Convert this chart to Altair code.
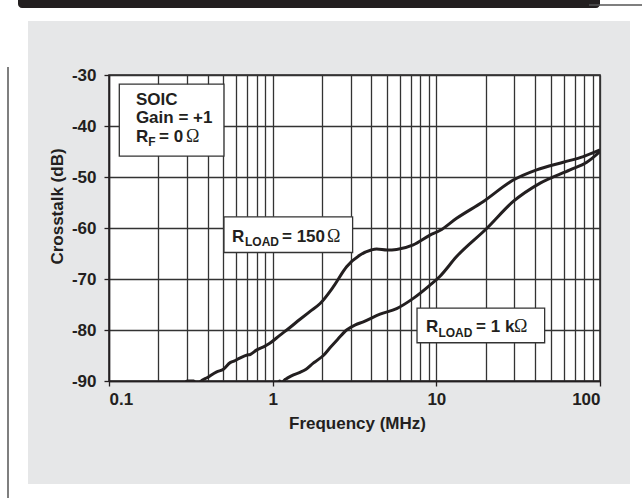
import altair as alt
import pandas as pd

# Crosstalk vs frequency, two load conditions (SOIC, gain +1, RF = 0)
freq_150 = [0.28, 0.30, 0.33, 0.345, 0.36, 0.40, 0.455, 0.50, 0.55, 0.58, 0.63, 0.70,
            0.73, 0.80, 0.88, 0.96, 1.11, 1.22, 1.47, 1.70, 1.95, 2.35, 2.83, 3.42,
            4.0, 4.32, 5.0, 5.72, 7.23, 9.15, 10.5, 13.3, 19.4, 29.5, 41.0, 59.7, 79.1, 100]
db_150 = [-91.5, -90.0, -90.0, -91.0, -90.2, -89.3, -88.2, -87.7, -86.4, -86.1, -85.5, -84.9,
          -84.8, -83.9, -83.3, -82.6, -81.0, -80.0, -77.9, -76.3, -74.8, -71.5, -67.6, -65.3,
          -64.3, -64.1, -64.3, -64.2, -63.3, -61.4, -60.5, -58.1, -54.8, -50.6, -48.6, -47.1, -46.0, -44.7]

freq_1k = [1.05, 1.10, 1.14, 1.19, 1.22, 1.34, 1.47, 1.60, 1.77, 1.86, 2.04, 2.24, 2.50,
           2.83, 3.2, 3.58, 4.53, 5.72, 7.23, 9.15, 10.5, 13.3, 20.3, 29.5, 43.1, 65.6, 83.0, 100]
db_1k = [-91.5, -90.0, -90.3, -89.7, -89.5, -88.8, -88.3, -87.7, -86.5, -86.0, -85.0, -83.5, -81.8,
         -80.0, -79.0, -78.4, -76.9, -75.8, -73.8, -71.2, -69.5, -65.6, -60.1, -54.8, -51.2, -48.6, -47.1, -45.0]

# Axis grid / tick values
x_grid = [0.1, 0.2, 0.3, 0.4, 0.5, 0.6, 0.7, 0.8, 0.9,
          1, 2, 3, 4, 5, 6, 7, 8, 9,
          10, 20, 30, 40, 50, 60, 70, 80, 90, 100]
y_ticks = [-90, -80, -70, -60, -50, -40, -30]

# Annotation boxes (frequency / dB extents)
box_f1 = [0.1156, 0.504, 7.62]
box_f2 = [0.504, 3.08, 45.9]
box_db1 = [-31.8, -57.8, -75.7]
box_db2 = [-45.9, -64.8, -82.5]

# Annotation text pieces
main_text = ["SOIC", "Gain = +1", "R", "= 0", "R", "= 150", "R", "= 1 k"]
main_f = [0.146, 0.146, 0.146, 0.202, 0.564, 1.14, 8.65, 17.5]
main_db = [-35.9, -39.4, -43.1, -43.1, -62.7, -62.7, -80.4, -80.4]
sub_text = ["F", "LOAD", "LOAD"]
sub_f = [0.174, 0.678, 10.3]
sub_db = [-43.9, -63.5, -81.3]
ohm_text = ["\u03a9", "\u03a9", "\u03a9"]
ohm_f = [0.2955, 2.15, 29.8]
ohm_db = [-43.1, -62.7, -80.4]

FONT = "Liberation Sans, Arial, Helvetica, sans-serif"
SERIF = "Liberation Serif, DejaVu Serif, serif"
INK = "#231f20"
W, H = 491, 306

curves = pd.concat([
    pd.DataFrame({"f": freq_150, "db": db_150, "load": "150"}),
    pd.DataFrame({"f": freq_1k, "db": db_1k, "load": "1k"}),
])

x_scale = alt.Scale(type="log", domain=[0.1, 100], nice=False)
y_scale = alt.Scale(domain=[-90, -30], nice=False, zero=False)

decade_test = "abs(log(datum.value)/LN10 - round(log(datum.value)/LN10)) < 0.001"

x_axis = alt.Axis(
    values=x_grid, format="~g",
    labelExpr="indexof(['0.1','1','10','100'], datum.label) >= 0 ? datum.label : ''",
    labelOverlap=False, grid=True, gridColor="#333333", gridWidth=1.3,
    tickOpacity={"condition": {"test": decade_test, "value": 1}, "value": 0},
    tickSize=5, tickColor=INK, tickWidth=1.3, labelPadding=5,
    domainColor=INK, domainWidth=1.5,
    labelFont=FONT, labelFontSize=17, labelFontWeight="bold", labelColor=INK,
    title="Frequency (MHz)", titleFont=FONT, titleFontSize=17, titleFontWeight="bold",
    titleColor=INK, titleX=248, titleY=47, titleBaseline="alphabetic", titleAlign="center",
)
y_axis = alt.Axis(
    values=y_ticks, labelExpr="'' + datum.value",
    grid=True, gridColor="#333333", gridWidth=1.3,
    tickSize=5, tickColor=INK, tickWidth=1.3, labelPadding=8,
    domainColor=INK, domainWidth=1.5,
    labelFont=FONT, labelFontSize=17, labelFontWeight="bold", labelColor=INK,
    title="Crosstalk (dB)", titleFont=FONT, titleFontSize=17, titleFontWeight="bold",
    titleColor=INK, titleAngle=270, titleX=-47, titleY=131,
    titleBaseline="alphabetic", titleAlign="center",
)

one = alt.Data(values=[{"k": 0}])


def frame_rect(x, x2, y, y2, color):
    return alt.Chart(one).mark_rect(color=color, clip=False).encode(
        x=alt.value(x), x2=alt.value(x2), y=alt.value(y), y2=alt.value(y2))


# White page margins around the grey panel
margins = [
    frame_rect(-109, -81, -75, H + 117, "white"),
    frame_rect(521, W + 42, -75, H + 117, "white"),
    frame_rect(-109, W + 42, -75, -54, "white"),
    frame_rect(-109, W + 42, 409, H + 117, "white"),
]

# Header bar and page rule
header = alt.Chart(one).mark_rect(
    color=INK, clip=False, cornerRadiusBottomLeft=7, cornerRadiusBottomRight=7
).encode(x=alt.value(-91), x2=alt.value(491), y=alt.value(-75), y2=alt.value(-67))
header_line = alt.Chart(one).mark_rule(color="#555555", strokeWidth=1.5, clip=False).encode(
    x=alt.value(480), x2=alt.value(W + 42), y=alt.value(-70))
side_line = alt.Chart(one).mark_rule(color="#555555", strokeWidth=1.5, clip=False).encode(
    x=alt.value(-101), y=alt.value(-8), y2=alt.value(H + 117))

lines = alt.Chart(curves).mark_line(
    color=INK, strokeWidth=3, clip=True, interpolate="monotone"
).encode(
    x=alt.X("f:Q", scale=x_scale, axis=x_axis),
    y=alt.Y("db:Q", scale=y_scale, axis=y_axis),
    detail="load:N",
)

boxes = alt.Chart(pd.DataFrame({"f1": box_f1, "f2": box_f2, "d1": box_db1, "d2": box_db2})).mark_rect(
    fill="white", stroke="#333333", strokeWidth=1.3
).encode(x=alt.X("f1:Q", scale=x_scale), x2="f2:Q",
         y=alt.Y("d1:Q", scale=y_scale), y2="d2:Q")

main_lbl = alt.Chart(pd.DataFrame({"t": main_text, "f": main_f, "d": main_db})).mark_text(
    font=FONT, fontSize=17, fontWeight="bold", color=INK, align="left", baseline="alphabetic"
).encode(x=alt.X("f:Q", scale=x_scale), y=alt.Y("d:Q", scale=y_scale), text="t:N")

sub_lbl = alt.Chart(pd.DataFrame({"t": sub_text, "f": sub_f, "d": sub_db})).mark_text(
    font=FONT, fontSize=12, fontWeight="bold", color=INK, align="left", baseline="alphabetic"
).encode(x=alt.X("f:Q", scale=x_scale), y=alt.Y("d:Q", scale=y_scale), text="t:N")

ohm_lbl = alt.Chart(pd.DataFrame({"t": ohm_text, "f": ohm_f, "d": ohm_db})).mark_text(
    font=SERIF, fontSize=18, fontWeight="normal", color=INK, align="left", baseline="alphabetic"
).encode(x=alt.X("f:Q", scale=x_scale), y=alt.Y("d:Q", scale=y_scale), text="t:N")

chart = alt.layer(
    *margins, header, header_line, side_line, lines, boxes, main_lbl, sub_lbl, ohm_lbl
).properties(
    width=W, height=H,
    autosize=alt.AutoSizeParams(type="none"),
    padding={"left": 109, "top": 75, "right": 42, "bottom": 117},
    background="#e6e7e8",
).configure_view(fill="white", stroke=INK, strokeWidth=1.5)

chart.save("out.html", embed_options={"renderer": "svg", "actions": False})
